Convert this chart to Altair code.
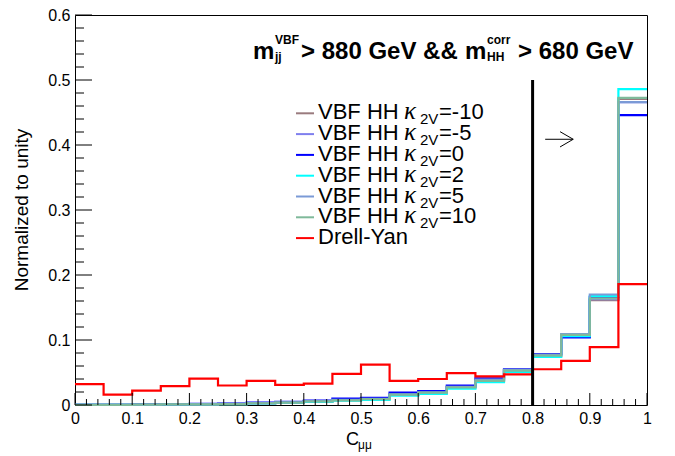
import altair as alt
import pandas as pd

# ---- data -------------------------------------------------------------
bin_edges = [round(i * 0.05, 2) for i in range(20)]
x_end = 1.0

series_names = ["kv-10", "kv-5", "kv0", "kv2", "kv5", "kv10", "DY"]
series_colors = ["#9a7b7e", "#7f7fee", "#0000ff", "#00ffff", "#7b9ad6", "#7fb99a", "#ff0000"]
legend_kappa = ["-10", "-5", "0", "2", "5", "10", None]

vbf_m10 = [0.0003, 0.0003, 0.0005, 0.001, 0.001, 0.0015, 0.0028, 0.004, 0.0055, 0.0075,
           0.0095, 0.016, 0.019, 0.027, 0.038, 0.053, 0.075, 0.105, 0.1615, 0.471]
vbf_m5 = [0.0003, 0.0003, 0.0005, 0.001, 0.0012, 0.0017, 0.003, 0.0042, 0.006, 0.008,
          0.010, 0.017, 0.020, 0.028, 0.039, 0.054, 0.077, 0.107, 0.163, 0.466]
vbf_0 = [0.0004, 0.0004, 0.0007, 0.0013, 0.0016, 0.0022, 0.0036, 0.005, 0.0068, 0.0097,
         0.011, 0.019, 0.0215, 0.030, 0.041, 0.055, 0.0785, 0.104, 0.166, 0.446]
vbf_2 = [0.0002, 0.0002, 0.0004, 0.0008, 0.0009, 0.0012, 0.0024, 0.0034, 0.0048, 0.0068,
         0.008, 0.0145, 0.017, 0.025, 0.035, 0.051, 0.074, 0.106, 0.1677, 0.486]
vbf_5 = [0.0003, 0.0003, 0.0005, 0.001, 0.0011, 0.0016, 0.0029, 0.004, 0.0058, 0.0078,
         0.0095, 0.0165, 0.0195, 0.028, 0.039, 0.054, 0.0775, 0.109, 0.170, 0.466]
vbf_10 = [0.0003, 0.0003, 0.0005, 0.0009, 0.001, 0.0015, 0.0027, 0.0038, 0.0055, 0.0072,
          0.009, 0.016, 0.019, 0.027, 0.037, 0.053, 0.076, 0.108, 0.164, 0.4725]
drell_yan = [0.032, 0.016, 0.022, 0.029, 0.0405, 0.030, 0.037, 0.031, 0.033, 0.048,
             0.062, 0.037, 0.040, 0.049, 0.044, 0.047, 0.055, 0.068, 0.089, 0.186]
series_values = [vbf_m10, vbf_m5, vbf_0, vbf_2, vbf_5, vbf_10, drell_yan]

x_ticks = [round(i * 0.1, 1) for i in range(11)]
y_ticks = [round(i * 0.1, 1) for i in range(7)]
x_minor = [round(i * 0.02, 2) for i in range(51)]
y_minor = [round(i * 0.02, 2) for i in range(31)]

cut_value = 0.8
cut_top = 0.5

W, H = 572, 390
FONT = "Liberation Sans"

xs = alt.Scale(domain=[0, 1], nice=False, zero=False)
ys = alt.Scale(domain=[0, 0.6], nice=False, zero=False)
x_axis = alt.Axis(title=None, values=x_ticks, format="~g", ticks=False, domain=False,
                  grid=False, labelFont=FONT, labelFontSize=16, labelColor="black",
                  labelPadding=5, labelFlush=False)
y_axis = alt.Axis(title=None, values=y_ticks, format="~g", ticks=False, domain=False,
                  grid=False, labelFont=FONT, labelFontSize=16, labelColor="black",
                  labelPadding=5)


def X(f):
    return alt.X(f, type="quantitative", scale=xs, axis=x_axis)


def Y(f):
    return alt.Y(f, type="quantitative", scale=ys, axis=y_axis)


layers = []

# histograms
for name, col, vals in zip(series_names, series_colors, series_values):
    df = pd.DataFrame({"x": bin_edges + [x_end], "y": vals + [vals[-1]]})
    layers.append(
        alt.Chart(df).mark_line(interpolate="step-after", color=col, strokeWidth=2.2)
        .encode(x=X("x"), y=Y("y"))
    )

# ticks (inside, ROOT style)
xmaj = pd.DataFrame({"t": x_ticks})
xmin = pd.DataFrame({"t": [v for v in x_minor if round(v * 10, 6) != round(v * 10)]})
ymaj = pd.DataFrame({"t": y_ticks})
ymin = pd.DataFrame({"t": [v for v in y_minor if round(v * 10, 6) != round(v * 10)]})
layers.append(alt.Chart(xmaj).mark_rule(color="black", strokeWidth=1)
              .encode(x=X("t"), y=alt.value(H), y2=alt.value(H - 12)))
layers.append(alt.Chart(xmin).mark_rule(color="black", strokeWidth=1)
              .encode(x=X("t"), y=alt.value(H), y2=alt.value(H - 6)))
layers.append(alt.Chart(ymaj).mark_rule(color="black", strokeWidth=1)
              .encode(y=Y("t"), x=alt.value(0), x2=alt.value(17)))
layers.append(alt.Chart(ymin).mark_rule(color="black", strokeWidth=1)
              .encode(y=Y("t"), x=alt.value(0), x2=alt.value(9)))

# cut line
cut = pd.DataFrame({"x": [cut_value], "y0": [0.0], "y1": [cut_top]})
layers.append(alt.Chart(cut).mark_rule(color="black", strokeWidth=3)
              .encode(x=X("x"), y=Y("y0"), y2="y1"))

# arrow
arrow = pd.DataFrame({"x0": [0.822, 0.848, 0.848], "x1": [0.871, 0.871, 0.871],
                      "y0": [0.4088, 0.4205, 0.397], "y1": [0.4088, 0.4088, 0.4088]})
layers.append(alt.Chart(arrow).mark_rule(color="black", strokeWidth=1)
              .encode(x=X("x0"), x2="x1", y=Y("y0"), y2="y1"))


def txt(s, x, y, size, bold=False, italic=False, font=FONT, align="left", baseline="alphabetic", angle=None):
    kw = dict(text=s, font=font, fontSize=size, align=align, baseline=baseline, color="black")
    if bold:
        kw["fontWeight"] = "bold"
    if italic:
        kw["fontStyle"] = "italic"
    if angle is not None:
        kw["angle"] = angle
    return alt.Chart(pd.DataFrame({"a": [0]})).mark_text(**kw).encode(
        x=alt.value(x), y=alt.value(y))


# header text  m_jj^VBF > 880 GeV && m_HH^corr > 680 GeV
TS = 24
layers += [
    txt("m", 178, 44, TS, bold=True),
    txt("VBF", 200, 29, 12, bold=True),
    txt("jj", 200, 46, 12, bold=True),
    txt("> 880 GeV &&", 226, 44, TS, bold=True),
    txt("m", 390, 44, TS, bold=True),
    txt("corr", 412, 29, 12, bold=True),
    txt("HH", 412, 46, 12, bold=True),
    txt("> 680 GeV", 443, 44, TS, bold=True),
]

# legend
LS = 22
for i, (name, col, kv) in enumerate(zip(series_names, series_colors, legend_kappa)):
    base = 104.3 + 20.8 * i
    ly = base - 6
    layers.append(alt.Chart(pd.DataFrame({"a": [0]})).mark_rule(color=col, strokeWidth=2)
                  .encode(x=alt.value(221), x2=alt.value(239), y=alt.value(ly)))
    if kv is None:
        layers.append(txt("Drell-Yan", 243, base, LS))
    else:
        layers += [
            txt("VBF HH", 243, base, LS),
            txt("κ", 329, base, 25, italic=True, font="Liberation Serif"),
            txt("2V", 345, base + 5, 15),
            txt("=" + kv, 364, base, LS),
        ]

# axis titles
layers += [
    txt("Normalized to unity", -53, H / 2, 19, align="center", baseline="middle", angle=270),
    txt("C", 271, 430, 18),
    txt("μμ", 283, 434, 12),
]

chart = alt.layer(*layers).properties(
    width=W, height=H,
    autosize=alt.AutoSizeParams(type="none"),
    padding={"left": 75, "top": 15, "right": 28, "bottom": 51},
    background="white",
).configure_view(stroke="black", strokeWidth=1)

chart.save("out.html", embed_options={"renderer": "svg", "actions": False})
